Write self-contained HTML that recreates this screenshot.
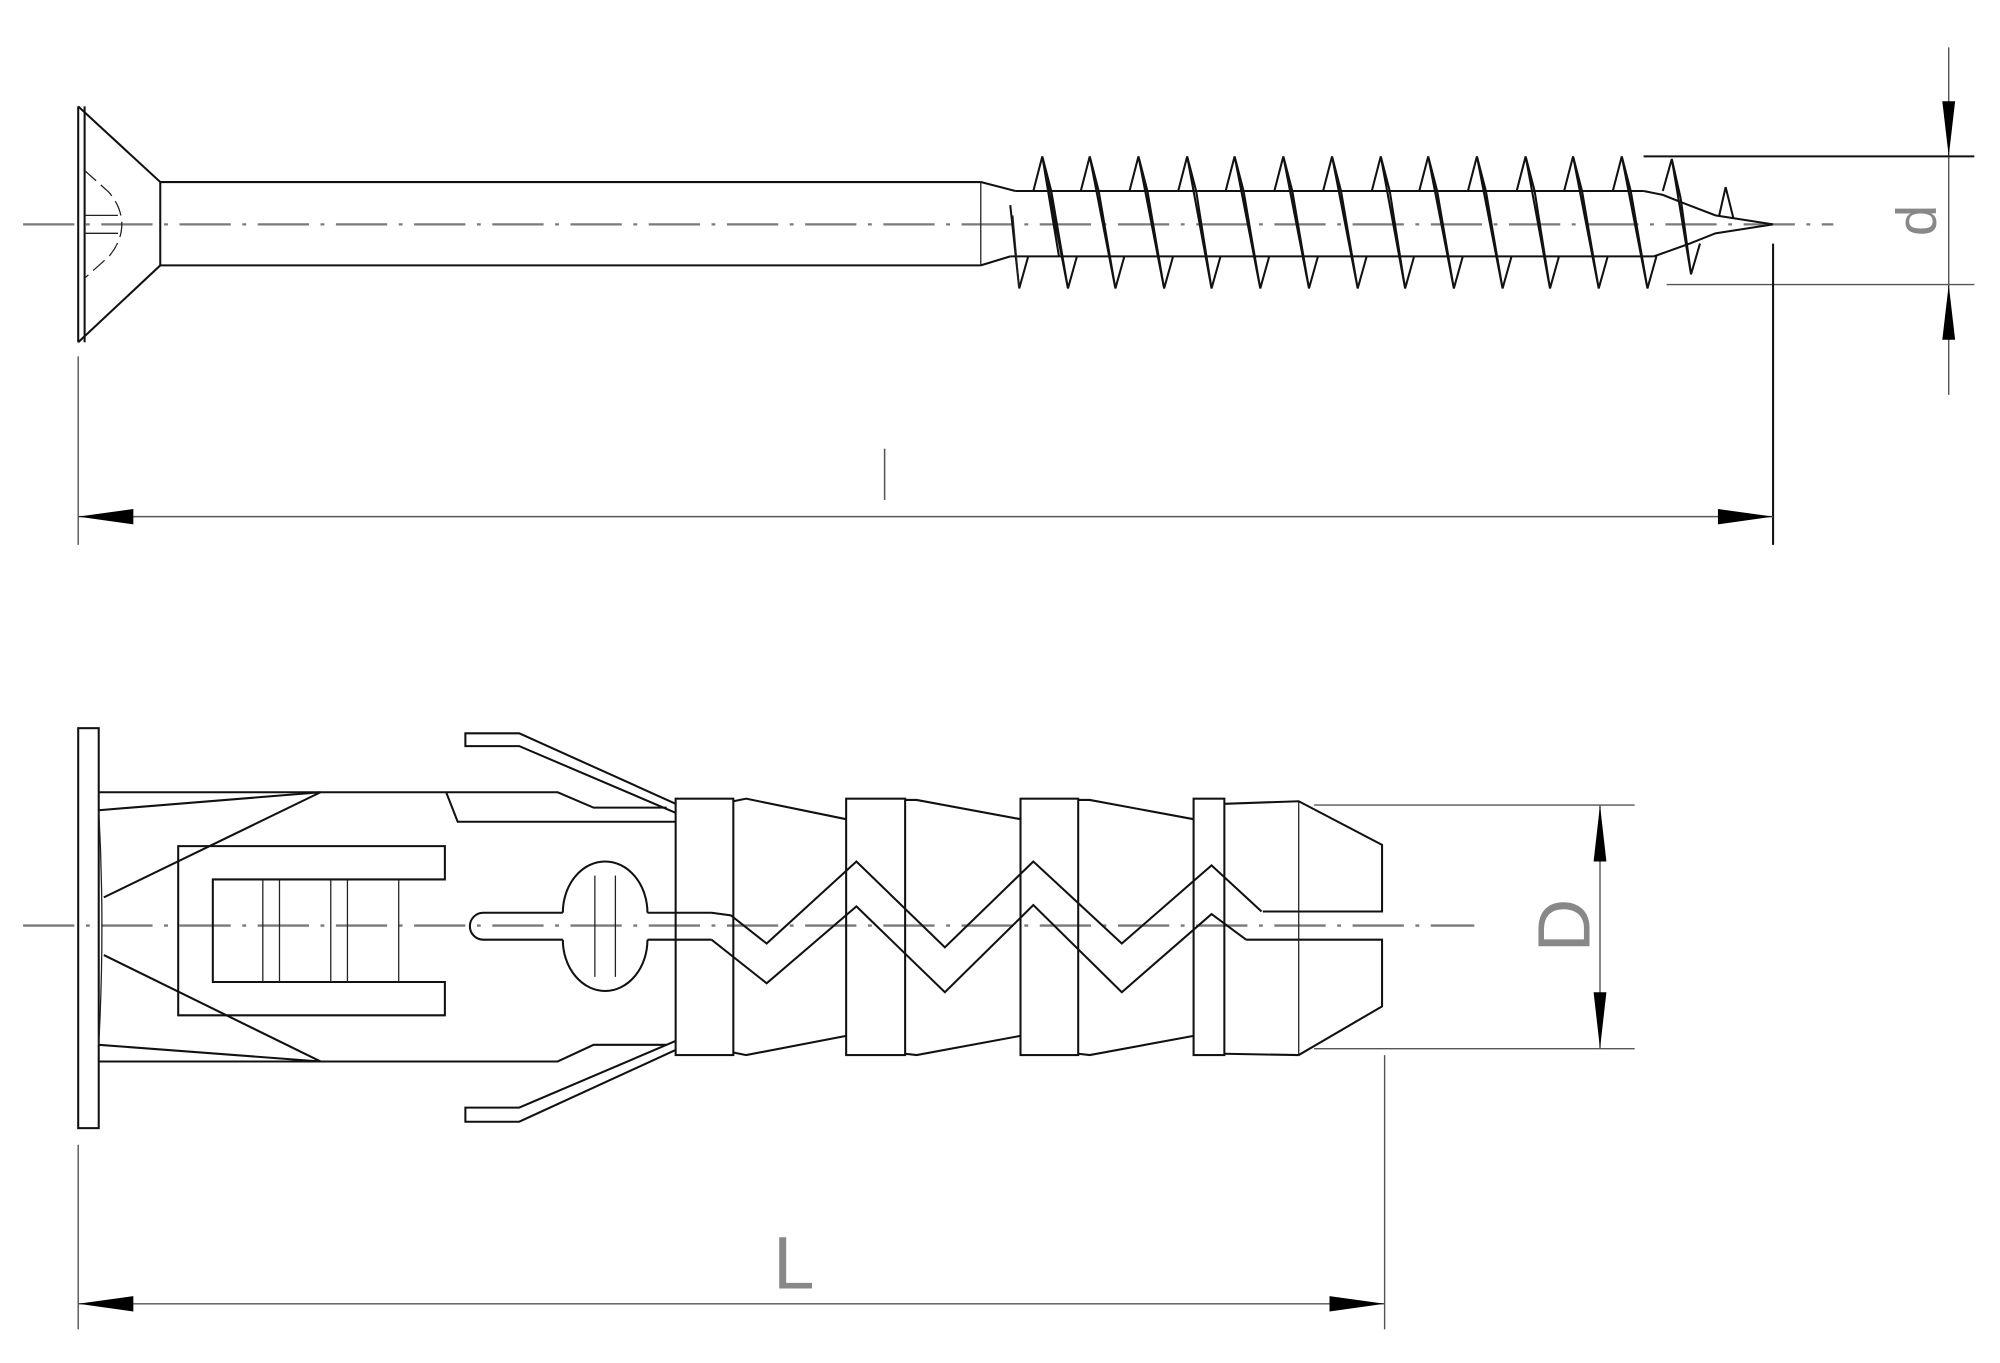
<!DOCTYPE html>
<html><head><meta charset="utf-8"><style>
html,body{margin:0;padding:0;background:#fff}
svg{display:block}
</style></head><body>
<svg width="2000" height="1363" viewBox="0 0 1560 1063.2" preserveAspectRatio="none" xmlns="http://www.w3.org/2000/svg">
<defs>
<style>
.s{fill:none;stroke:#111;stroke-width:1.6;stroke-linejoin:miter}
.t{fill:none;stroke:#222;stroke-width:1}
.c{fill:none;stroke:#7a7a7a;stroke-width:1.8;stroke-dasharray:40 9 3 9}
.dm{fill:none;stroke:#555;stroke-width:1.1}
.ar{fill:#000}
.lb{font-family:"Liberation Sans",sans-serif;font-weight:normal;fill:#888}
</style>
</defs>

<line class="c" x1="18" y1="175" x2="1430" y2="175"/>
<line class="s" x1="61" y1="83" x2="61" y2="267"/>
<line class="s" x1="66" y1="83" x2="66" y2="267"/>
<polyline class="s" points="61,83 125,142 125,207 61,267"/>
<path class="t" d="M66,133 L85,150 Q95,162 95,175 Q95,188 85,200 L66,217" stroke-dasharray="12 5"/>
<line class="t" x1="66" y1="168" x2="92" y2="168"/>
<line class="t" x1="66" y1="182" x2="92" y2="182"/>
<line class="s" x1="125" y1="142" x2="765" y2="142"/>
<line class="s" x1="125" y1="207" x2="765" y2="207"/>
<line class="t" x1="765" y1="142" x2="765" y2="207"/>
<line class="s" x1="765" y1="142" x2="792" y2="149"/>
<line class="s" x1="765" y1="207" x2="788" y2="200"/>
<line class="s" x1="792" y1="149" x2="1282" y2="149"/>
<line class="s" x1="788" y1="200" x2="1290" y2="200"/>
<polyline class="s" points="788,160 795,225 802,200"/>
<line class="t" x1="790" y1="168" x2="795" y2="225"/>
<g class="s">
<path d="M806,149 L813,122 L833,225 L840,200 M813,122 L820,149 M813,122 L826,200 M820,149 L833,225"/>
<path d="M843,149 L850,122 L870,225 L877,200 M850,122 L857,149 M857,149 L870,225"/>
<path d="M881,149 L888,122 L908,225 L915,200 M888,122 L895,149 M895,149 L908,225"/>
<path d="M919,149 L926,122 L945,225 L952,200 M926,122 L933,149 M933,149 L945,225"/>
<path d="M956,149 L963,122 L983,225 L990,200 M963,122 L970,149 M970,149 L983,225"/>
<path d="M994,149 L1001,122 L1021,225 L1028,200 M1001,122 L1008,149 M1008,149 L1021,225"/>
<path d="M1032,149 L1039,122 L1059,225 L1066,200 M1039,122 L1046,149 M1046,149 L1059,225"/>
<path d="M1070,149 L1077,122 L1096,225 L1103,200 M1077,122 L1084,149 M1084,149 L1096,225"/>
<path d="M1107,149 L1114,122 L1134,225 L1141,200 M1114,122 L1121,149 M1121,149 L1134,225"/>
<path d="M1145,149 L1152,122 L1172,225 L1179,200 M1152,122 L1159,149 M1159,149 L1172,225"/>
<path d="M1183,149 L1190,122 L1209,225 L1216,200 M1190,122 L1197,149 M1197,149 L1209,225"/>
<path d="M1220,149 L1227,122 L1247,225 L1254,200 M1227,122 L1234,149 M1234,149 L1247,225"/>
<path d="M1258,149 L1265,122 L1285,225 L1292,200 M1265,122 L1272,149 M1272,149 L1285,225"/>
<path d="M1297,149 L1304,124 L1319,214 L1326,190 M1304,124 L1311,155 M1311,155 L1319,214"/>
</g>
<polyline class="s" points="1282,149 1297,152 1312,158 1338,168 1383,175 1338,182 1318,190 1290,200"/>
<polyline class="s" points="1341,168 1346,146 1352,170"/>
<line class="dm" x1="1520" y1="37" x2="1520" y2="308"/>
<line class="s" x1="1282" y1="122" x2="1540" y2="122"/>
<line class="dm" x1="1300" y1="222" x2="1540" y2="222"/>
<polygon class="ar" points="1515,79 1525,79 1520,122"/>
<polygon class="ar" points="1515,265 1525,265 1520,222"/>
<text class="lb" x="0" y="0" font-size="44" text-anchor="middle" transform="translate(1510,172) rotate(-90)">d</text>
<line class="dm" x1="61" y1="278" x2="61" y2="425"/>
<line class="s" x1="1383" y1="190" x2="1383" y2="425"/>
<line class="dm" x1="61" y1="403" x2="1383" y2="403"/>
<polygon class="ar" points="61,403 104,397 104,409"/>
<polygon class="ar" points="1383,403 1340,397 1340,409"/>
<line x1="690" y1="350" x2="690" y2="390" stroke="#555" stroke-width="1.2"/>

<line class="c" x1="18" y1="722" x2="1150" y2="722"/>
<rect class="s" x="61" y="568" width="16" height="312"/>
<polyline class="s" points="77,618 435,618 463,630 520,630"/>
<polyline class="s" points="348,618 357,641 527,641"/>
<polyline class="s" points="77,632 250,618 81,700"/>
<polyline class="s" points="77,828 435,828 463,815 520,815"/>
<polyline class="s" points="77,815 250,828 81,745"/>
<path class="t" d="M77,632 Q82,722 77,815"/>
<polyline class="s" points="527,634 405,582 363,582 363,572 405,572 527,627"/>
<polyline class="s" points="527,812 405,864 363,864 363,875 405,875 527,819"/>
<polygon class="s" points="139,660 347,660 347,686 166,686 166,766 347,766 347,792 139,792"/>
<line class="t" x1="205" y1="686" x2="205" y2="766"/>
<line class="t" x1="218" y1="686" x2="218" y2="766"/>
<line class="t" x1="258" y1="686" x2="258" y2="766"/>
<line class="t" x1="271" y1="686" x2="271" y2="766"/>
<line class="t" x1="311" y1="686" x2="311" y2="766"/>
<path class="s" d="M439,712 L377,712 A10.5,10.5 0 0 0 377,733 L439,733"/>
<path class="s" d="M439,712 A33,40 0 0 1 505,712 M439,733 A33,40 0 0 0 505,733"/>
<line class="t" x1="464" y1="683" x2="464" y2="762"/>
<line class="t" x1="480" y1="683" x2="480" y2="762"/>
<line class="s" x1="505" y1="712" x2="555" y2="712"/>
<line class="s" x1="505" y1="733" x2="555" y2="733"/>
<line class="t" x1="527" y1="627" x2="527" y2="820"/>
<rect class="s" x="527" y="623" width="45" height="200"/>
<rect class="s" x="660" y="623" width="46" height="200"/>
<rect class="s" x="796" y="623" width="45" height="200"/>
<rect class="s" x="931" y="623" width="24" height="200"/>
<polyline class="s" points="572,625 582,623 660,639"/>
<polyline class="s" points="706,624 715,624 796,639"/>
<polyline class="s" points="841,624 850,624 931,639"/>
<polyline class="s" points="572,821 582,823 660,808"/>
<polyline class="s" points="706,822 715,823 796,808"/>
<polyline class="s" points="841,822 850,823 931,808"/>
<polyline class="s" points="955,627 1013,625 1078,659 1078,711 985,711"/>
<polyline class="s" points="972,733 1078,733 1078,785 1013,823 955,822"/>
<line class="t" x1="1013" y1="625" x2="1013" y2="823"/>
<polyline class="s" points="555,712 570,714 598,736 668,672 737,739 806,672 875,736 945,675 984,711"/>
<polyline class="s" points="555,733 598,767 668,707 737,774 806,706 875,774 945,713 972,733"/>
<line class="dm" x1="1025" y1="628" x2="1275" y2="628"/>
<line class="dm" x1="1025" y1="818" x2="1275" y2="818"/>
<line class="dm" x1="1248" y1="628" x2="1248" y2="818"/>
<polygon class="ar" points="1248,628 1243,672 1253,672"/>
<polygon class="ar" points="1248,818 1243,774 1253,774"/>
<text class="lb" x="0" y="0" font-size="58" text-anchor="middle" transform="translate(1240,722) rotate(-90)">D</text>
<line class="dm" x1="61" y1="893" x2="61" y2="1037"/>
<line class="dm" x1="1080" y1="823" x2="1080" y2="1037"/>
<line class="dm" x1="61" y1="1017" x2="1080" y2="1017"/>
<polygon class="ar" points="61,1017 104,1011 104,1023"/>
<polygon class="ar" points="1080,1017 1037,1011 1037,1023"/>
<text class="lb" x="603" y="1005" font-size="58">L</text>
</svg>
</body></html>
